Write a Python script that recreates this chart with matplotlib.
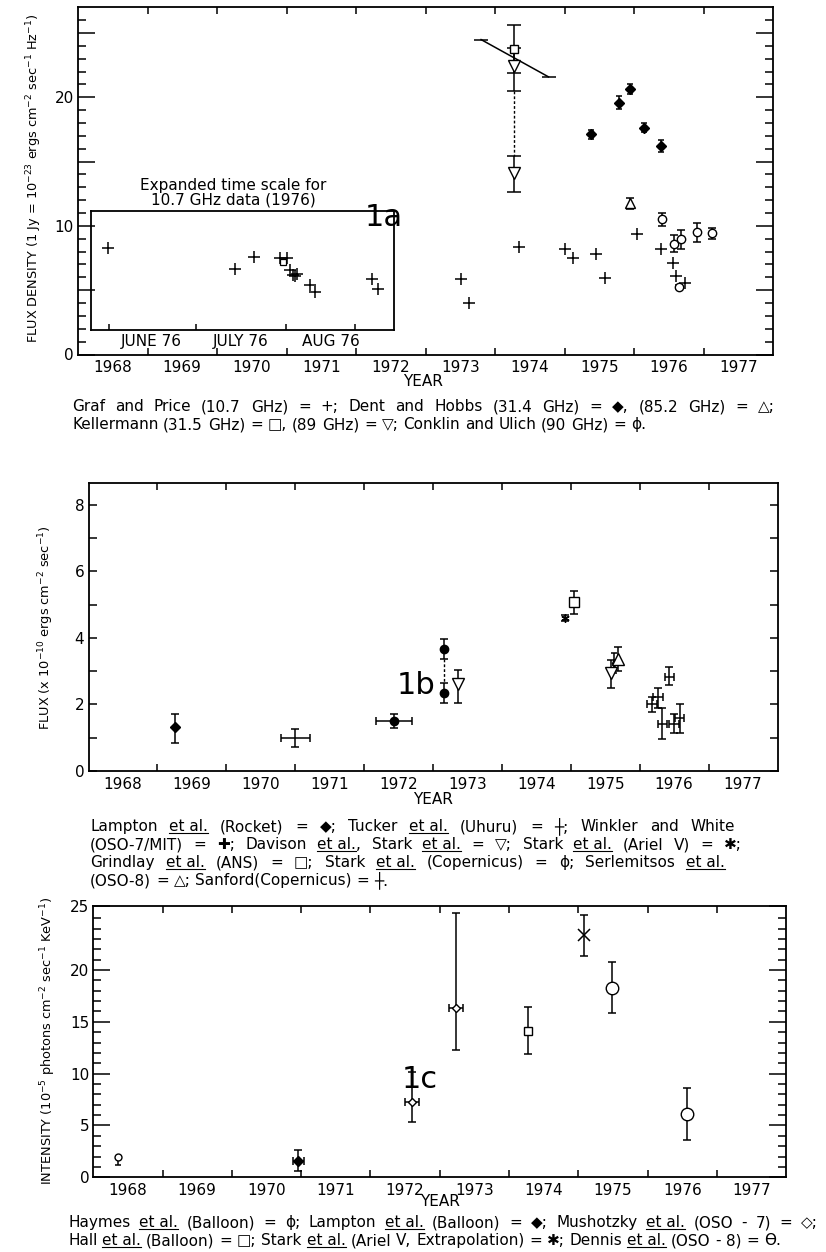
import re
import matplotlib
matplotlib.use('Agg')
import matplotlib.pyplot as plt
import numpy as np
from matplotlib.font_manager import FontProperties
from matplotlib.lines import Line2D

plt.rcParams['font.family'] = ['DejaVu Sans']

W, H = 826, 1252

# ---------------- panel 1a : radio flux density ----------------
graf_year = [1973.51, 1973.62, 1974.35, 1975.01, 1975.12, 1975.46, 1975.58,
             1976.04, 1976.39, 1976.56, 1976.60, 1976.73]
graf_flux = [5.84, 4.02, 8.33, 8.17, 7.52, 7.79, 5.97, 9.34, 8.17, 7.09, 6.10, 5.53]

dent314_year = [1975.38, 1975.79, 1975.94, 1976.14, 1976.39]
dent314_flux = [17.11, 19.57, 20.63, 17.62, 16.20]
dent314_err = [0.35, 0.50, 0.40, 0.35, 0.45]

dent852_year = [1975.94]
dent852_flux = [11.75]
dent852_err = [0.45]

kell315_year = [1974.28]
kell315_flux = [23.79]
kell315_err = [1.87]

kell89_year = [1974.28, 1974.28]
kell89_flux = [22.42, 14.13]
kell89_lo = [1.95, 1.53]
kell89_hi = [1.40, 1.32]

kell_slope_year = [1973.80, 1974.77]
kell_slope_flux = [24.49, 21.59]

conklin_year = [1976.40, 1976.57, 1976.67, 1976.90, 1977.12, 1976.65]
conklin_flux = [10.50, 8.61, 8.95, 9.49, 9.42, 5.27]
conklin_err = [0.52, 0.67, 0.72, 0.74, 0.43, 0.15]

# expanded 1976 inset, days counted from 1 June 1976
inset_day = [-0.4, 43.4, 50.1, 59.0, 61.6, 62.4, 63.6, 64.9, 64.1, 69.3, 71.0, 90.9, 92.9]
inset_flux = [8.25, 6.64, 7.55, 7.47, 7.47, 6.57, 6.18, 6.25, 6.10, 5.40, 4.88, 5.87, 5.07]
inset_kell_day = [59.9]
inset_kell_flux = [7.21]
inset_months = ['JUNE 76', 'JULY 76', 'AUG 76']

# ---------------- panel 1b : X-ray flux ----------------
lampton_year = [1969.26]
lampton_flux = [1.31]
lampton_lo = [0.46]
lampton_hi = [0.39]

tucker_year = [1971.00]
tucker_flux = [0.98]
tucker_err = [0.27]
tucker_xerr = [0.21]

winkler_year = [1972.43, 1973.16, 1973.16]
winkler_flux = [1.51, 3.66, 2.33]
winkler_err = [0.21, 0.31, 0.30]
winkler_xerr = [0.26, 0.0, 0.0]

davison_year = [1973.36, 1975.58]
davison_flux = [2.61, 2.93]
davison_lo = [0.58, 0.43]
davison_hi = [0.42, 0.40]

ariel_year = [1974.92]
ariel_flux = [4.60]
ariel_err = [0.08]

grindlay_year = [1975.05]
grindlay_flux = [5.07]
grindlay_err = [0.34]

stark_cop_year = [1975.62]
stark_cop_flux = [3.23]
stark_cop_err = [0.30]

serlem_year = [1975.68]
serlem_flux = [3.35]
serlem_err = [0.36]

sanford_year = [1976.18, 1976.27, 1976.33, 1976.43, 1976.50, 1976.58]
sanford_flux = [2.01, 2.21, 1.40, 2.83, 1.40, 1.58]
sanford_lo = [0.25, 0.33, 0.44, 0.25, 0.25, 0.43]
sanford_hi = [0.22, 0.27, 0.48, 0.30, 0.30, 0.43]

# ---------------- panel 1c : hard X-ray intensity ----------------
haymes_year = [1968.36]
haymes_int = [1.99]
haymes_lo = [0.80]

lampton_b_year = [1970.96]
lampton_b_int = [1.61]
lampton_b_err = [1.01]

mushotzky_year = [1972.60, 1973.23]
mushotzky_int = [7.22, 16.36]
mushotzky_lo = [1.93, 4.04]
mushotzky_hi = [2.98, 9.13]

hall_year = [1974.28]
hall_int = [14.16]
hall_err = [2.26]

stark_x_year = [1975.08]
stark_x_int = [23.39]
stark_x_lo = [2.03]
stark_x_hi = [1.91]

dennis_year = [1975.48, 1976.57]
dennis_int = [18.29, 6.10]
dennis_err = [2.45, 2.55]

year_labels = [str(y) for y in range(1968, 1978)]

fig = plt.figure(figsize=(8.26, 12.52), dpi=100)


def px_axes(left, top, right, bottom):
    return fig.add_axes([left / W, 1 - bottom / H, (right - left) / W, (bottom - top) / H])


def style_axes(ax, ylim, ymajor, ylabels, yminor, maj_len, min_len):
    ax.set_xlim(1968, 1978)
    ax.set_ylim(*ylim)
    ax.set_xticks(range(1969, 1978))
    ax.set_xticklabels([])
    ax.set_xticks(np.arange(1968.5, 1978, 1), minor=True)
    ax.set_xticklabels(year_labels, minor=True)
    ax.tick_params(axis='x', which='both', direction='in', top=True, bottom=True)
    ax.tick_params(axis='x', which='major', length=5, width=1.1)
    ax.tick_params(axis='x', which='minor', length=0, pad=4, labelsize=11)
    ax.set_yticks(ymajor)
    ax.set_yticklabels(ylabels)
    ax.set_yticks(yminor, minor=True)
    ax.tick_params(axis='y', which='both', direction='in', left=True, right=True,
                   labelsize=11, pad=3)
    ax.tick_params(axis='y', which='major', length=maj_len, width=1.1)
    ax.tick_params(axis='y', which='minor', length=min_len, width=1.1)
    for s in ax.spines.values():
        s.set_linewidth(1.3)


ebk = dict(ecolor='k', elinewidth=1.1, capthick=1.1)
mk = dict(color='k', linestyle='none')

# ================= 1a =================
ax1 = px_axes(78, 7.3, 773, 354.5)
style_axes(ax1, (0, 27), [0, 5, 10, 15, 20, 25], ['0', '', '10', '', '20', ''],
           np.arange(0, 27, 1), 12, 6)

ax1.plot(graf_year, graf_flux, '+', color='k', ms=8, mew=1.1)
ax1.errorbar(dent314_year, dent314_flux, yerr=dent314_err, fmt='D', ms=5,
             mfc='k', capsize=2, **ebk, **mk)
ax1.errorbar(dent852_year, dent852_flux, yerr=dent852_err, fmt='^', ms=7,
             mfc='white', capsize=3, **ebk, **mk)
ax1.errorbar(kell315_year, kell315_flux, yerr=kell315_err, fmt='s', ms=6,
             mfc='white', capsize=5, **ebk, **mk)
ax1.errorbar(kell89_year, kell89_flux, yerr=[kell89_lo, kell89_hi], fmt='v', ms=9,
             mfc='white', capsize=5, **ebk, **mk)
gap_y = [kell89_flux[0] - kell89_lo[0], kell89_flux[1] + kell89_hi[1]]
ax1.plot([kell89_year[0]] * 2, gap_y, color='k', lw=1, ls=(0, (2, 1.5)))
ax1.plot(kell_slope_year, kell_slope_flux, color='k', lw=1.1, zorder=1)
ax1.plot(kell_slope_year, kell_slope_flux, '_', color='k', ms=10, mew=1.1)
ax1.errorbar(conklin_year, conklin_flux, yerr=conklin_err, fmt='o', ms=6,
             mfc='white', capsize=3, **ebk, **mk)

ins = ax1.inset_axes([1968.18, 1.91, 4.37, 9.27], transform=ax1.transData)
ins.set_xlim(-6.3, 98.4)
ins.set_ylim(1.91, 11.18)
ins.set_facecolor('none')
ins.set_yticks([])
ins.set_xticks([0, 30, 61, 85])
ins.set_xticklabels([])
ins.set_xticks([14.5, 45.5, 76.5], minor=True)
ins.set_xticklabels(inset_months, minor=True)
ins.tick_params(axis='x', which='major', direction='in', length=4, width=1.1)
ins.tick_params(axis='x', which='minor', length=0, pad=3, labelsize=11)
for s in ins.spines.values():
    s.set_linewidth(1.3)
ins.plot(inset_day, inset_flux, '+', color='k', ms=8, mew=1.1)
ins.plot(inset_kell_day, inset_kell_flux, 's', color='k', mfc='white', ms=4, mew=0.9)
ax1.text(1970.23, 11.45, 'Expanded time scale for\n10.7 GHz data (1976)',
         ha='center', va='bottom', fontsize=11, linespacing=0.95)

# ================= 1b =================
ax2 = px_axes(88.5, 482.7, 777.5, 771)
style_axes(ax2, (0, 8.66), [0, 2, 4, 6, 8], ['0', '2', '4', '6', '8'],
           np.arange(0, 9, 1), 6, 6)
ax2.errorbar(lampton_year, lampton_flux, yerr=[lampton_lo, lampton_hi], fmt='D', ms=5,
             mfc='k', capsize=3, **ebk, **mk)
ax2.errorbar(tucker_year, tucker_flux, yerr=tucker_err, xerr=tucker_xerr, fmt='none',
             capsize=3, **ebk)
ax2.errorbar(winkler_year, winkler_flux, yerr=winkler_err, xerr=winkler_xerr, fmt='o',
             ms=6, mfc='k', capsize=3, **ebk, **mk)
ax2.plot([winkler_year[1]] * 2,
         [winkler_flux[1] - winkler_err[1], winkler_flux[2] + winkler_err[2]],
         color='k', lw=1, ls=(0, (2, 1.5)))
ax2.errorbar(davison_year, davison_flux, yerr=[davison_lo, davison_hi], fmt='v', ms=8,
             mfc='white', capsize=3, **ebk, **mk)
ax2.errorbar(ariel_year, ariel_flux, yerr=ariel_err, fmt='none', capsize=3, **ebk)
ax2.plot(ariel_year, ariel_flux, marker=(6, 2, 0), ms=6, mew=1, **mk)
ax2.errorbar(grindlay_year, grindlay_flux, yerr=grindlay_err, fmt='s', ms=7,
             mfc='white', capsize=3, **ebk, **mk)
ax2.errorbar(stark_cop_year, stark_cop_flux, yerr=stark_cop_err, fmt='d', ms=4,
             mfc='white', capsize=2, **ebk, **mk)
ax2.errorbar(serlem_year, serlem_flux, yerr=serlem_err, fmt='^', ms=8,
             mfc='white', capsize=3, **ebk, **mk)
ax2.errorbar(sanford_year, sanford_flux, yerr=[sanford_lo, sanford_hi],
             xerr=[0.07] * len(sanford_year), fmt='none', capsize=3, **ebk)

# ================= 1c =================
ax3 = px_axes(93.3, 905.7, 786.2, 1177.3)
style_axes(ax3, (0, 26.2), [0, 5, 10, 15, 20, 26.2], ['0', '5', '10', '15', '20', '25'],
           np.arange(0, 26, 1), 12, 6)
ax3.errorbar(haymes_year, haymes_int, yerr=[haymes_lo, [0]], fmt='o', ms=5,
             mfc='white', capsize=2, **ebk, **mk)
ax3.errorbar(lampton_b_year, lampton_b_int, yerr=lampton_b_err, xerr=0.08, fmt='D', ms=5,
             mfc='k', capsize=3, **ebk, **mk)
ax3.errorbar(mushotzky_year, mushotzky_int, yerr=[mushotzky_lo, mushotzky_hi],
             xerr=0.1, fmt='D', ms=4, mfc='white', capsize=3, **ebk, **mk)
ax3.errorbar(hall_year, hall_int, yerr=hall_err, fmt='s', ms=6,
             mfc='white', capsize=3, **ebk, **mk)
ax3.errorbar(stark_x_year, stark_x_int, yerr=[stark_x_lo, stark_x_hi], fmt='x', ms=9,
             mew=1.1, capsize=3, **ebk, **mk)
ax3.errorbar(dennis_year, dennis_int, yerr=dennis_err, fmt='o', ms=9,
             mfc='white', capsize=3, **ebk, **mk)
ax3.plot(dennis_year, dennis_int, '_', color='k', ms=9, mew=1)

# ---------------- axis titles ----------------
for x, y, s in [(423, 382, 'YEAR'), (433, 800, 'YEAR'), (440, 1201, 'YEAR')]:
    fig.text(x / W, 1 - y / H, s, ha='center', va='center', fontsize=11)

ylab = [
    (34, 178, 'FLUX DENSITY (1 Jy = 10$^{-23}$ ergs cm$^{-2}$ sec$^{-1}$ Hz$^{-1}$)'),
    (46, 628, 'FLUX (x 10$^{-10}$ ergs cm$^{-2}$ sec$^{-1}$)'),
    (48, 1041, 'INTENSITY (10$^{-5}$ photons cm$^{-2}$ sec$^{-1}$ KeV$^{-1}$)'),
]
for x, y, s in ylab:
    fig.text(x / W, 1 - y / H, s, ha='center', va='center', rotation=90, fontsize=9.3)

for x, y, s in [(384, 218, '1a'), (416, 685, '1b'), (420, 1079, '1c')]:
    fig.text(x / W, 1 - y / H, s, ha='center', va='center', fontsize=22)

# ---------------- captions: justified lines, underlined "et al." ----------------
renderer = fig.canvas.get_renderer()
cap_prop = FontProperties(family='DejaVu Sans', size=11.0)


def text_w(s):
    bar = renderer.get_text_width_height_descent('|', cap_prop, ismath=False)[0]
    return renderer.get_text_width_height_descent(s + '|', cap_prop, ismath=False)[0] - bar


def caption(x, y, line, target=None):
    toks = re.findall(r'\{[^}]*\}|[^\s{]+|\s+', line)
    widths = [text_w(t.strip('{}')) if not t.isspace() else text_w(' ') for t in toks]
    n_sp = sum(1 for t in toks if t.isspace())
    extra = max(0, (target - sum(widths)) / n_sp) if target and n_sp else 0
    for t, w in zip(toks, widths):
        if t.isspace():
            x += w + extra
            continue
        s = t.strip('{}')
        fig.text(x / W, 1 - y / H, s, fontproperties=cap_prop, va='baseline', ha='left')
        if t.startswith('{'):
            fig.add_artist(Line2D([x / W, (x + w) / W], [1 - (y + 2) / H] * 2,
                                  lw=0.8, color='k'))
        x += w


cap_a = [
    'Graf and Price (10.7 GHz) = +; Dent and Hobbs (31.4 GHz) = \u25c6, (85.2 GHz) = \u25b3;',
    'Kellermann (31.5 GHz) = \u25a1, (89 GHz) = \u25bd; Conklin and Ulich (90 GHz) = \u03d5.',
]
cap_b = [
    'Lampton {et al.} (Rocket) = \u25c6; Tucker {et al.} (Uhuru) = \u253c; Winkler and White',
    '(OSO-7/MIT) = \u271a; Davison {et al.}, Stark {et al.} = \u25bd; Stark {et al.} (Ariel V) = \u2731;',
    'Grindlay {et al.} (ANS) = \u25a1; Stark {et al.} (Copernicus) = \u03d5; Serlemitsos {et al.}',
    '(OSO-8) = \u25b3; Sanford(Copernicus) = \u253c.',
]
cap_c = [
    'Haymes {et al.} (Balloon) = \u03d5; Lampton {et al.} (Balloon) = \u25c6; Mushotzky {et al.} (OSO - 7) = \u25c7;',
    'Hall {et al.} (Balloon) = \u25a1; Stark {et al.} (Ariel \u2164, Extrapolation) = \u2731; Dennis {et al.} (OSO - 8) = \u03f4.',
]
for i, (line, tw) in enumerate(zip(cap_a, [703, None])):
    caption(72, 411 + 18 * i, line, tw)
for i, (line, tw) in enumerate(zip(cap_b, [645, 652, 635, None])):
    caption(90, 831 + 18 * i, line, tw)
for i, (line, tw) in enumerate(zip(cap_c, [750, None])):
    caption(68, 1227 + 18 * i, line, tw)

fig.savefig('out.png', dpi=100)
